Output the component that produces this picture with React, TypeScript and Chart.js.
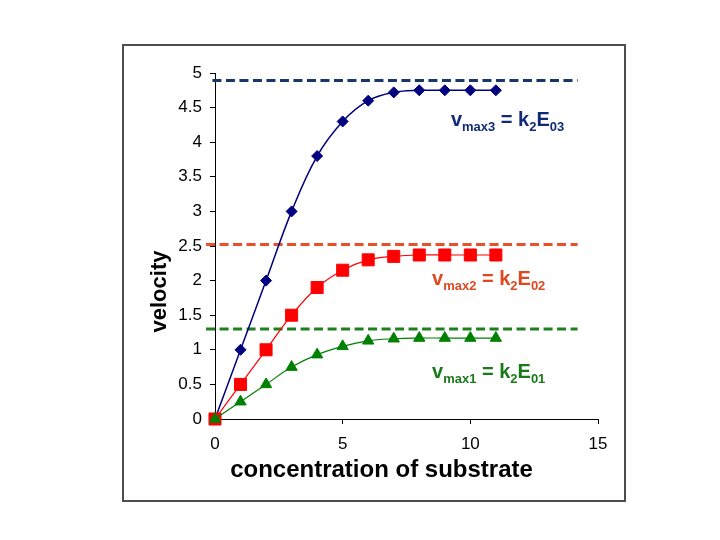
import React, { useEffect, useRef } from 'react';
import { Chart, registerables } from 'chart.js';

Chart.register(...registerables);

// ---- data ----
const substrate = [0, 1, 2, 3, 4, 5, 6, 7, 8, 9, 10, 11];
const velocity3 = [0, 1, 2, 3, 3.8, 4.3, 4.6, 4.72, 4.75, 4.75, 4.75, 4.75];
const velocity2 = [0, 0.5, 1, 1.5, 1.9, 2.15, 2.3, 2.35, 2.37, 2.37, 2.37, 2.37];
const velocity1 = [0, 0.25, 0.5, 0.75, 0.93, 1.05, 1.13, 1.16, 1.17, 1.17, 1.17, 1.17];

const vmaxValues = [4.89, 2.52, 1.3]; // vmax3, vmax2, vmax1
const vmaxLineStart = [-0.1, -0.35, -0.35];
const vmaxLineEnd = [14.2, 14.2, 14.2];

const vmaxSubscripts = ['max3', 'max2', 'max1'];
const e0Subscripts = ['03', '02', '01'];
const vmaxLabelX = [9.24, 8.5, 8.5];
const vmaxLabelY = [4.23, 1.94, 0.59];

const xTicks = [0, 5, 10, 15];
const yTicks = [0, 0.5, 1, 1.5, 2, 2.5, 3, 3.5, 4, 4.5, 5];

const xTitle = 'concentration of substrate';
const yTitle = 'velocity';

const FONT = '"Liberation Sans", Arial, Helvetica, sans-serif';

const seriesColors = ['#008000', '#FF0000', '#000080'];
const dashColors = ['#17376B', '#E8502A', '#1E7F1E'];
const labelColors = ['#102A78', '#E04820', '#1A7A1A'];

const framePlugin = {
  id: 'frame',
  beforeDraw(chart: any) {
    const { ctx } = chart;
    ctx.save();
    ctx.fillStyle = '#ffffff';
    ctx.fillRect(0, 0, chart.width, chart.height);
    ctx.strokeStyle = '#4d4d4d';
    ctx.lineWidth = 2;
    ctx.strokeRect(123, 45, 502, 456);
    ctx.restore();
  },
};

const textPlugin = {
  id: 'texts',
  afterDraw(chart: any) {
    const { ctx } = chart;
    const xs = chart.scales.x;
    const ys = chart.scales.y;
    ctx.save();
    // axis titles
    ctx.fillStyle = '#000';
    ctx.font = `bold 24px ${FONT}`;
    ctx.textAlign = 'center';
    ctx.textBaseline = 'alphabetic';
    ctx.fillText(xTitle, 381.5, 477);
    ctx.save();
    ctx.translate(166, 291.5);
    ctx.rotate(-Math.PI / 2);
    ctx.font = `bold 22px ${FONT}`;
    ctx.fillText(yTitle, 0, 0);
    ctx.restore();

    // vmax labels
    ctx.textAlign = 'left';
    for (let i = 0; i < vmaxSubscripts.length; i++) {
      let px = xs.getPixelForValue(vmaxLabelX[i]);
      const py = ys.getPixelForValue(vmaxLabelY[i]);
      const runs = [
        { t: 'v', sub: false },
        { t: vmaxSubscripts[i], sub: true },
        { t: ' = k', sub: false },
        { t: '2', sub: true },
        { t: 'E', sub: false },
        { t: e0Subscripts[i], sub: true },
      ];
      ctx.fillStyle = labelColors[i];
      for (const r of runs) {
        ctx.font = r.sub ? `bold 13px ${FONT}` : `bold 20px ${FONT}`;
        ctx.fillText(r.t, px, py + (r.sub ? 5 : 0));
        px += ctx.measureText(r.t).width;
      }
    }
    ctx.restore();
  },
};

function pts(ys: number[]) {
  return substrate.map((x, i) => ({ x, y: ys[i] }));
}

export default function App() {
  const ref = useRef<HTMLCanvasElement | null>(null);

  useEffect(() => {
    if (!ref.current) return;
    const seriesData = [velocity1, velocity2, velocity3];
    const pointStyles = ['triangle', 'rect', 'rectRot'];
    const radii = [6.5, 8.5, 5.5];
    const lineWidths = [1.2, 1.2, 1.5];

    const datasets: any[] = seriesData.map((d, i) => ({
      label: 'series' + (i + 1),
      data: pts(d),
      borderColor: seriesColors[i],
      backgroundColor: seriesColors[i],
      borderWidth: lineWidths[i],
      pointStyle: pointStyles[i],
      pointRadius: radii[i],
      pointBorderWidth: 1,
      pointBackgroundColor: seriesColors[i],
      pointBorderColor: seriesColors[i],
      tension: 0.4,
      fill: false,
      clip: false,
    }));

    vmaxValues.forEach((v, i) => {
      datasets.push({
        label: 'vmax' + (3 - i),
        data: [
          { x: vmaxLineStart[i], y: v },
          { x: vmaxLineEnd[i], y: v },
        ],
        borderColor: dashColors[i],
        borderWidth: 3,
        borderDash: [9, 4.5],
        pointRadius: 0,
        fill: false,
        clip: false,
        tension: 0,
      });
    });

    const tickFont = { family: FONT, size: 17 };

    const chart = new Chart(ref.current, {
      type: 'line',
      data: { datasets },
      plugins: [framePlugin, textPlugin],
      options: {
        animation: false,
        responsive: false,
        devicePixelRatio: 1,
        events: [],
        layout: { padding: { left: 134, right: 122, top: 73, bottom: 54 } },
        plugins: {
          legend: { display: false },
          tooltip: { enabled: false },
          title: { display: false },
        },
        scales: {
          x: {
            type: 'linear',
            min: 0,
            max: 15,
            afterBuildTicks: (s: any) => {
              s.ticks = xTicks.map((v) => ({ value: v }));
            },
            afterFit: (s: any) => {
              s.height = 67;
            },
            ticks: {
              autoSkip: false,
              maxRotation: 0,
              color: '#000',
              font: tickFont,
              padding: 10,
              callback: (v: any) => String(v),
            },
            grid: {
              drawOnChartArea: false,
              drawTicks: true,
              tickLength: 5,
              color: '#000',
            },
            border: { display: true, color: '#000', width: 1 },
          },
          y: {
            type: 'linear',
            min: 0,
            max: 5,
            afterBuildTicks: (s: any) => {
              s.ticks = yTicks.map((v) => ({ value: v }));
            },
            afterFit: (s: any) => {
              s.width = 81;
            },
            ticks: {
              autoSkip: false,
              color: '#000',
              font: tickFont,
              padding: 8,
              callback: (v: any) => String(v),
            },
            grid: {
              drawOnChartArea: false,
              drawTicks: true,
              tickLength: 5,
              color: '#000',
            },
            border: { display: true, color: '#000', width: 1 },
          },
        },
      } as any,
    });
    return () => chart.destroy();
  }, []);

  return (
    <div style={{ position: 'absolute', left: 0, top: 0, width: 720, height: 540, background: '#fff' }}>
      <canvas ref={ref} width={720} height={540} style={{ display: 'block', width: 720, height: 540 }} />
    </div>
  );
}
